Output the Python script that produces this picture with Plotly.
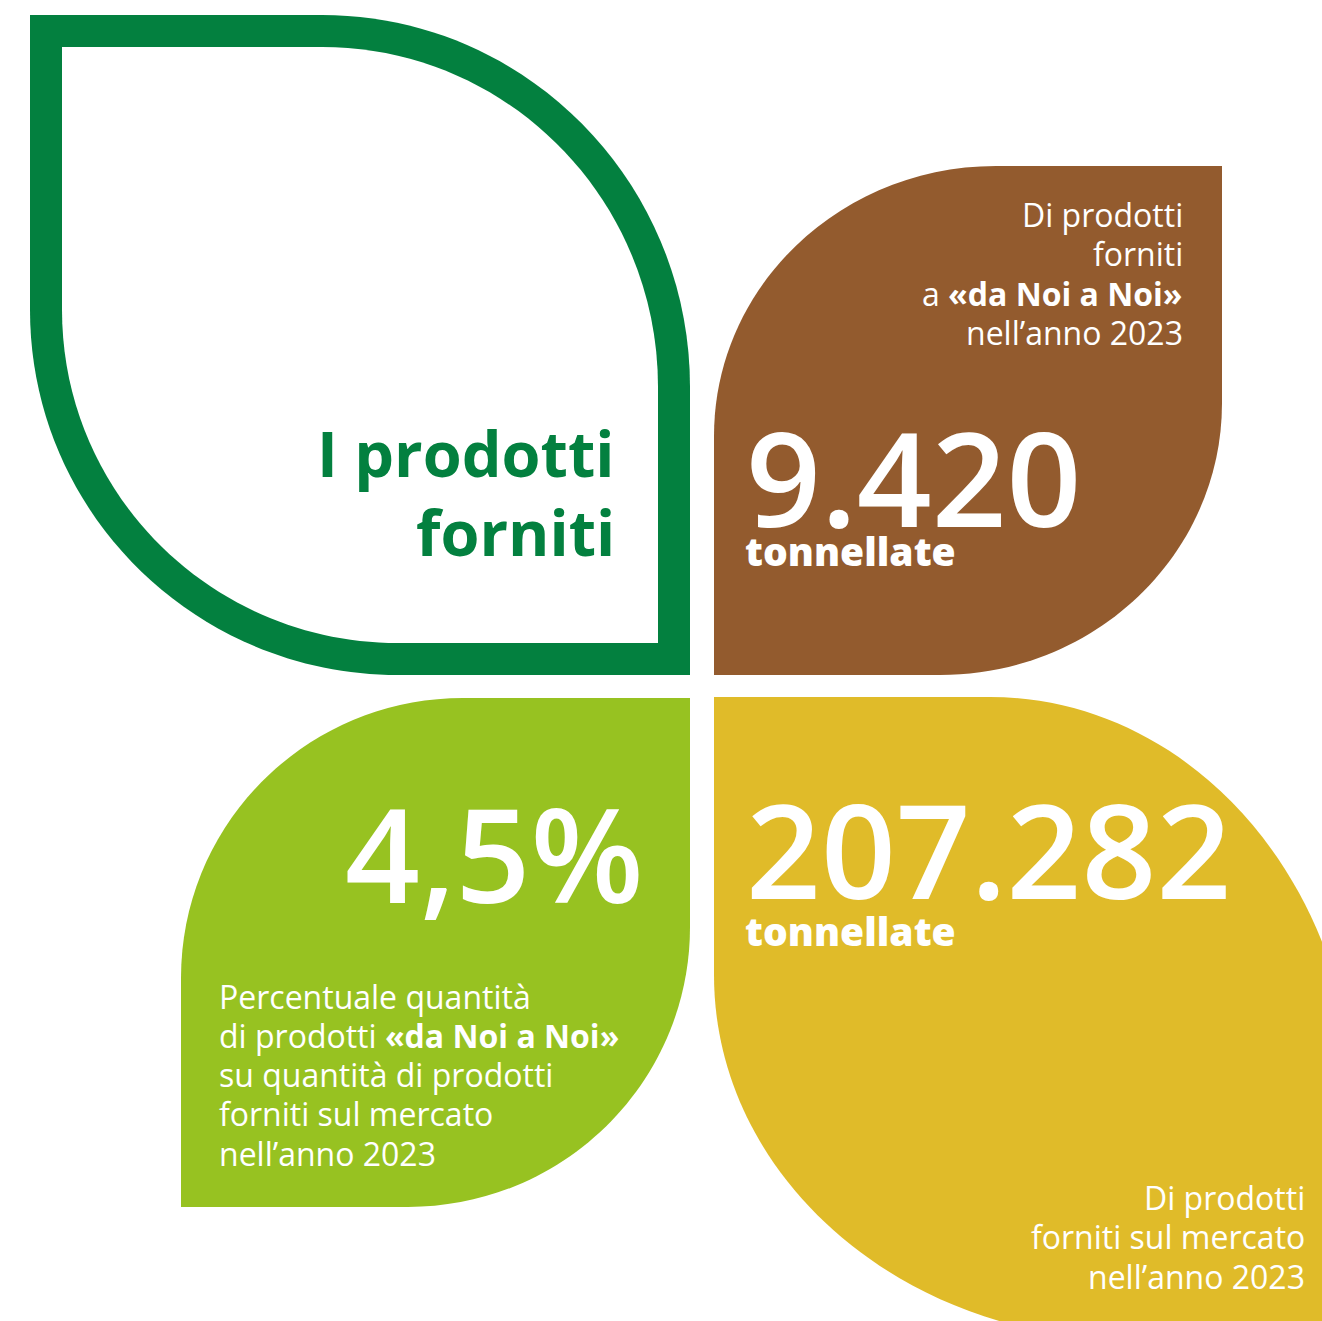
import plotly.graph_objects as go

# ---------------- data ----------------
title_lines = ["I prodotti", "forniti"]
metric_values = [9420, 4.5, 207282]           # t, %, t
metric_units = ["tonnellate", "%", "tonnellate"]
brown_caption = ["Di prodotti", "forniti", "a <b>«da Noi a Noi»</b>", "nell’anno 2023"]
green_caption = ["Percentuale quantità", "di prodotti <b>«da Noi a Noi»</b>",
                 "su quantità di prodotti", "forniti sul mercato", "nell’anno 2023"]
yellow_caption = ["Di prodotti", "forniti sul mercato", "nell’anno 2023"]

# ---------------- style ----------------
W, H = 1322, 1321
DARK_GREEN = "#03803F"
BROWN = "#935B2E"
LIGHT_GREEN = "#97C221"
YELLOW = "#E0BB29"
FONT = "Open Sans"
ASC = 1.069
K = 0.5523


def it_int(v):
    return f"{v:,}".replace(",", ".")


def it_dec(v):
    return f"{v}".replace(".", ",")


def leaf(x0, y0, x1, y1, tl=(0, 0), tr=(0, 0), br=(0, 0), bl=(0, 0)):
    p = f"M {x0 + tl[0]},{y0} L {x1 - tr[0]},{y0} "
    if tr[0]:
        p += (f"C {x1 - tr[0] + K * tr[0]},{y0} {x1},{y0 + tr[1] - K * tr[1]} "
              f"{x1},{y0 + tr[1]} ")
    p += f"L {x1},{y1 - br[1]} "
    if br[0]:
        p += (f"C {x1},{y1 - br[1] + K * br[1]} {x1 - br[0] + K * br[0]},{y1} "
              f"{x1 - br[0]},{y1} ")
    p += f"L {x0 + bl[0]},{y1} "
    if bl[0]:
        p += (f"C {x0 + bl[0] - K * bl[0]},{y1} {x0},{y1 - bl[1] + K * bl[1]} "
              f"{x0},{y1 - bl[1]} ")
    p += f"L {x0},{y0 + tl[1]} "
    if tl[0]:
        p += (f"C {x0},{y0 + tl[1] - K * tl[1]} {x0 + tl[0] - K * tl[0]},{y0} "
              f"{x0 + tl[0]},{y0} ")
    return p + "Z"


shapes = []


def add_shape(path, color):
    shapes.append(dict(type="path", path=path, xref="x", yref="y",
                       fillcolor=color, line=dict(width=0), layer="below"))


# green outline leaf (outer filled + inner white)
add_shape(leaf(30, 15, 690, 675, tr=(368, 372), bl=(368, 365)), DARK_GREEN)
add_shape(leaf(62, 47, 658, 643, tr=(336, 340), bl=(336, 333)), "white")
# brown leaf
add_shape(leaf(714, 166, 1222, 675, tl=(282, 270), br=(282, 272)), BROWN)
# light green leaf
add_shape(leaf(181, 698, 690, 1207, tl=(282, 280), br=(282, 280)), LIGHT_GREEN)
# yellow leaf (runs off the page)
add_shape(leaf(714, 697, 1355, 1340, tr=(365, 419), bl=(419, 365)), YELLOW)

annotations = []


def text(x, baseline, s, size, color, anchor="right", weight=400, trim=False):
    top = baseline - ASC * size - 1
    ann = dict(x=x, y=top, xref="x", yref="y", text=s,
               showarrow=False, xanchor=anchor, yanchor="top",
               align=anchor, borderpad=0,
               font=dict(family=FONT, size=size, color=color, weight=weight))
    if trim:  # box stops just under the baseline (digits have no descenders)
        ann["height"] = round(ASC * size + 4)
        ann["valign"] = "top"
    annotations.append(ann)


def block(x, first_baseline, lines, size, color, anchor, weight, gap=39.5):
    for i, ln in enumerate(lines):
        text(x, first_baseline + i * gap, ln, size, color, anchor, weight)


# title
block(616, 477, title_lines, 63, DARK_GREEN, "right", 700, gap=79)
# brown
block(1184, 227, brown_caption, 32, "white", "right", 500)
text(745, 527, it_int(metric_values[0]), 131, "white", "left", 600, trim=True)
text(744, 566, metric_units[0], 39, "white", "left", 800)
# light green
text(645, 903, it_dec(metric_values[1]) + metric_units[1], 131, "white", "right", 600)
block(218, 1009, green_caption, 32, "white", "left", 500, gap=39.2)
# yellow
text(745, 899, it_int(metric_values[2]), 131, "white", "left", 600, trim=True)
text(744, 946, metric_units[2], 39, "white", "left", 800)
block(1306, 1210, yellow_caption, 32, "white", "right", 500)

fig = go.Figure()
fig.add_trace(go.Scatter(x=[0, W], y=[0, H], mode="markers",
                         marker=dict(opacity=0), hoverinfo="skip", showlegend=False))
fig.update_layout(
    width=W, height=H, margin=dict(l=0, r=0, t=0, b=0),
    paper_bgcolor="white", plot_bgcolor="white",
    xaxis=dict(range=[0, W], visible=False, fixedrange=True),
    yaxis=dict(range=[H, 0], visible=False, fixedrange=True),
    shapes=shapes, annotations=annotations, showlegend=False,
)
fig.write_html("out.html", config={"displayModeBar": False},
               post_script="document.body.style.margin='0px';"
                           "document.body.style.overflow='hidden';")
